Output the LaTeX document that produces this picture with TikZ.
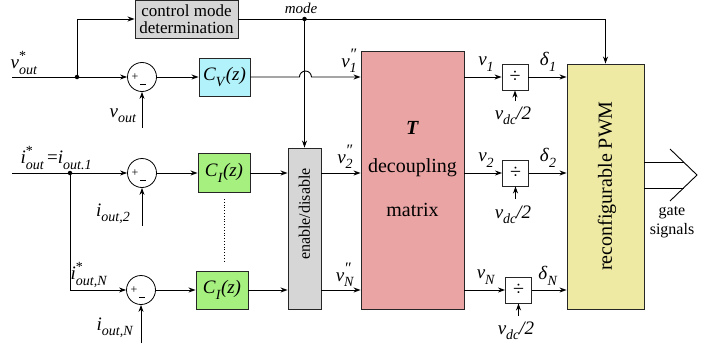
\documentclass[tikz,border=0pt]{standalone}
\usepackage{fontspec}
\setmainfont{Liberation Serif}
\usetikzlibrary{arrows.meta}

\definecolor{boxgray}{RGB}{214,214,214}
\definecolor{cvfill}{RGB}{178,242,250}
\definecolor{cifill}{RGB}{166,240,128}
\definecolor{tfill}{RGB}{234,164,164}
\definecolor{pwmfill}{RGB}{238,234,164}

% sizes for symbols and their indices
\newcommand\subsz{\fontsize{14}{14}\selectfont}
\newcommand\sbs[2]{\textit{#1}\raisebox{-0.28em}{\subsz\textit{#2}}}
\newcommand\sbsp[3]{\textit{#1}\makebox[0pt][l]{\raisebox{0.42em}{\subsz #3}}\raisebox{-0.28em}{\subsz\textit{#2}}}
\newcommand\dprime{{\fontsize{16}{16}\selectfont\textit{″}}}
\newcommand\vdch{\sbs{v}{dc}\textit{/2}}

\begin{document}
\begin{tikzpicture}[x=1pt,y=-1pt,
  blk/.style={draw=black!85, line width=0.9pt, rectangle, inner sep=0},
  sumc/.style={circle, draw, line width=0.8pt, minimum size=29, inner sep=0},
  wire/.style={line width=0.9pt},
  sig/.style={line width=0.9pt, -{Stealth[length=7pt,width=5pt]}},
  jdot/.style={circle, fill, inner sep=0, minimum size=4.5},
  lab/.style={font=\fontsize{19}{19}\selectfont, inner sep=0},
  big/.style={font=\fontsize{20}{22}\selectfont, inner sep=0},
  sgn/.style={font=\fontsize{12}{12}\selectfont, inner sep=0}]

\useasboundingbox (0,0) rectangle (706,345);

% ---------- blocks ----------
\node[blk, fill=boxgray, minimum width=103, minimum height=38, align=center,
      font=\fontsize{17}{17}\selectfont] (cmd) at (186.5,19) {control mode\\determination};
\node[sumc] (s1) at (142,77) {};
\node[sumc] (s2) at (142,173) {};
\node[sumc] (sN) at (141,290) {};
\node[blk, fill=cvfill, minimum width=51, minimum height=38, lab] (cv) at (224.5,77) {\textit{C}\raisebox{-0.28em}{\subsz\textit{V}}\textit{(z)}};
\node[blk, fill=cifill, minimum width=52, minimum height=39, lab] (ci2) at (224,173) {\textit{C}\raisebox{-0.28em}{\subsz\textit{I}}\textit{(z)}};
\node[blk, fill=cifill, minimum width=52, minimum height=38, lab] (ciN) at (222,290) {\textit{C}\raisebox{-0.28em}{\subsz\textit{I}}\textit{(z)}};
\node[blk, fill=boxgray, minimum width=33, minimum height=161] (en) at (304.5,228.5) {};
\node[rotate=90, font=\fontsize{16}{16}\selectfont, inner sep=0] at (304.5,214) {enable/disable};
\node[blk, fill=tfill, minimum width=103, minimum height=258] (T) at (412.5,180) {};
\node[big] at (412.5,128) {\textbf{\textit{T}}};
\node[big] at (412.5,168) {decoupling};
\node[big] at (412.5,210) {matrix};
\node[blk, fill=pwmfill, minimum width=77, minimum height=245] (pwm) at (605.5,186.5) {};
\node[rotate=90, big] at (607,186) {reconfigurable PWM};
\node[blk, fill=white, minimum size=26, font=\fontsize{20}{20}\selectfont] (d1) at (515,77) {÷};
\node[blk, fill=white, minimum size=26, font=\fontsize{20}{20}\selectfont] (d2) at (515.5,173) {÷};
\node[blk, fill=white, minimum size=26, font=\fontsize{20}{20}\selectfont] (dN) at (518.5,290) {÷};

% signs of the summing junctions
\foreach \s in {s1,s2,sN}{
  \node[sgn] at ([xshift=-7pt]\s.center) {+};
  \node[sgn] at ([xshift=1pt,yshift=-7pt]\s.center) {\rule{6pt}{0.7pt}};
}

% ---------- free ends ----------
\coordinate (vin) at (12,77);
\coordinate (j1) at (77,77);
\coordinate (iin) at (12,173);
\coordinate (j2) at (70,173);
\coordinate (vo) at (142,128);
\coordinate (io2) at (142,226);
\coordinate (ioN) at (141,343);
\coordinate (md) at (en.north |- cmd.east);
\coordinate (a1) at (515,101);
\coordinate (a2) at (515.5,199);
\coordinate (aN) at (518.5,316);
\coordinate (dt1) at (224,199);
\coordinate (dt2) at (224,262);

% ---------- connectors ----------
\draw[sig] (vin) -- (s1.west);
\draw[sig] (j1) |- (cmd.west);
\draw[sig] (vo) -- (s1.south);
\draw[sig] (s1.east) -- (cv.west);
\draw[sig] (cv.east) -- ++(49,0) arc[start angle=180, end angle=360, radius=6] -- (T.west |- cv.east);
\draw[sig] (cmd.east) -| (pwm.north);
\draw[sig] (md) -- (en.north);

\draw[sig] (iin) -- (s2.west);
\draw[sig] (j2) |- (sN.west);
\draw[sig] (io2) -- (s2.south);
\draw[sig] (ioN) -- (sN.south);
\draw[sig] (s2.east) -- (ci2.west);
\draw[sig] (sN.east) -- (ciN.west);
\draw[sig] (ci2.east) -- (en.west |- ci2.east);
\draw[sig] (ciN.east) -- (en.west |- ciN.east);
\draw[sig] (en.east |- ci2.east) -- (T.west |- ci2.east);
\draw[sig] (en.east |- ciN.east) -- (T.west |- ciN.east);
\draw[dotted, line width=0.8pt] (dt1) -- (dt2);

\draw[sig] (T.east |- d1.west) -- (d1.west);
\draw[sig] (T.east |- d2.west) -- (d2.west);
\draw[sig] (T.east |- dN.west) -- (dN.west);
\draw[sig] (d1.east) -- (pwm.west |- d1.east);
\draw[sig] (d2.east) -- (pwm.west |- d2.east);
\draw[sig] (dN.east) -- (pwm.west |- dN.east);
\draw[sig] (a1) -- (d1.south);
\draw[sig] (a2) -- (d2.south);
\draw[sig] (aN) -- (dN.south);

\node[jdot] at (j1) {};
\node[jdot] at (j2) {};
\node[jdot] at (md) {};

% gate signal output
\coordinate (g1) at (pwm.east |- 0,162);
\coordinate (g2) at (pwm.east |- 0,188);
\draw[wire] (g1) -- (683.5,162);
\draw[wire] (g2) -- (683.5,188);
\draw[wire] (670,149) -- (697,175) -- (670,201);
\node[align=center, font=\fontsize{16}{19}\selectfont, inner sep=0] at (672,222) {gate\\signals};

% ---------- labels ----------
\node[font=\fontsize{15}{15}\selectfont\itshape, inner sep=0] at (301,8) {mode};
\node[lab] at (24,63) {\sbsp{v}{out}{*}};
\node[lab] at (123,116) {\sbs{v}{out}};
\node[lab] at (56,158) {\sbsp{i}{out}{*}\,=\sbs{i}{out.1}};
\node[lab] at (113,214) {\sbs{i}{out,2}};
\node[lab] at (89,275) {\sbsp{i}{out,N}{*}};
\node[lab] at (115,328) {\sbs{i}{out,N}};
\node[lab] at (349,61) {\sbsp{v}{1}{\dprime}};
\node[lab] at (345,157) {\sbsp{v}{2}{\dprime}};
\node[lab] at (345,275) {\sbsp{v}{N}{\dprime}};
\node[lab] at (486,64) {\sbs{v}{1}};
\node[lab] at (486,160) {\sbs{v}{2}};
\node[lab] at (486,277) {\sbs{v}{N}};
\node[lab] at (548,62) {\sbs{δ}{1}};
\node[lab] at (548,158) {\sbs{δ}{2}};
\node[lab] at (548,276) {\sbs{δ}{N}};
\node[lab] at (513,116) {\vdch};
\node[lab] at (513,215) {\vdch};
\node[lab] at (516,331) {\vdch};
\end{tikzpicture}
\end{document}
